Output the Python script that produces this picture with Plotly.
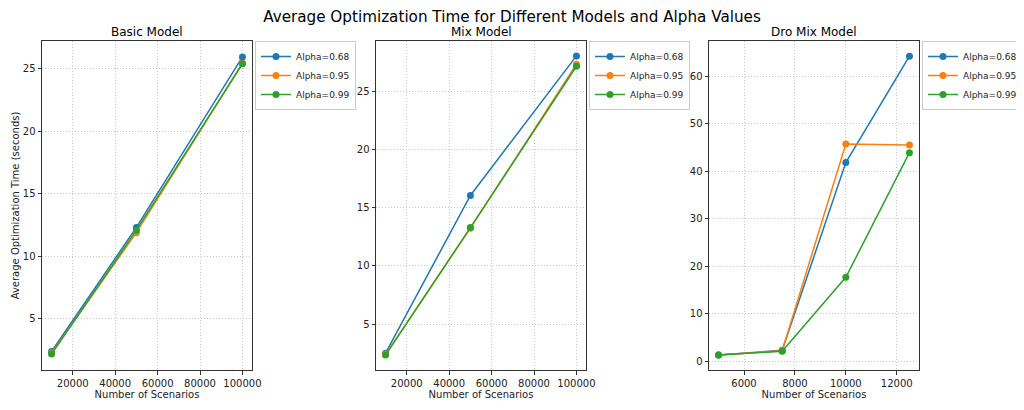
import plotly.graph_objects as go

# values
alphas = ["Alpha=0.68", "Alpha=0.95", "Alpha=0.99"]
colors = ["#1f77b4", "#ff7f0e", "#2ca02c"]

basic_scen = [10000, 50000, 100000]
basic_068 = [2.38, 12.3, 25.93]
basic_095 = [2.25, 11.88, 25.42]
basic_099 = [2.17, 12.08, 25.38]

mix_scen = [10000, 50000, 100000]
mix_068 = [2.5, 16.06, 28.07]
mix_095 = [2.4, 13.25, 27.35]
mix_099 = [2.33, 13.3, 27.18]

dro_scen = [5000, 7500, 10000, 12500]
dro_068 = [1.3, 2.3, 41.8, 64.2]
dro_095 = [1.3, 2.2, 45.7, 45.5]
dro_099 = [1.3, 2.1, 17.65, 43.9]

W, H = 1024, 410
OFF = 8  # page body margin
font = "DejaVu Sans"

def px_x(p):
    return (p - OFF) / W

def px_y(p):
    return 1 - (p - OFF) / H

fig = go.Figure()

panels = [
    ("Basic Model", basic_scen, [basic_068, basic_095, basic_099], "", (42, 252)),
    ("Mix Model", mix_scen, [mix_068, mix_095, mix_099], "2", (376, 586)),
    ("Dro Mix Model", dro_scen, [dro_068, dro_095, dro_099], "3", (709, 919)),
]

for title, xs, series, n, (x0, x1) in panels:
    for name, col, ys in zip(alphas, colors, series):
        fig.add_trace(go.Scatter(
            x=xs, y=ys, name=name, mode="lines+markers",
            line=dict(color=col, width=1.5),
            marker=dict(color=col, size=7),
            xaxis="x" + n, yaxis="y" + n, legend="legend" + n,
        ))
    fig.add_annotation(text=title, x=(px_x(x0) + px_x(x1)) / 2, y=px_y(32),
                       xref="paper", yref="paper", showarrow=False,
                       xanchor="center", yanchor="middle",
                       font=dict(size=12, color="black"))

axis_common = dict(showline=True, mirror=True, linecolor="#333", linewidth=1,
                   ticks="outside", ticklen=3.5, tickcolor="#333", automargin=False,
                   showgrid=True, gridcolor="#c8c8c8", griddash="1px,2px", gridwidth=1,
                   zeroline=False, tickformat="d", tickfont=dict(size=10, color="#222"))

layout = dict(
    width=W, height=H, margin=dict(l=0, r=0, t=0, b=0),
    plot_bgcolor="white", paper_bgcolor="white", template="none",
    font=dict(family=font, size=10, color="#222"),
    title=dict(text="Average Optimization Time for Different Models and Alpha Values",
               x=px_x(512), xanchor="center", y=px_y(17), yanchor="middle",
               font=dict(size=15.2, color="black")),
)

ranges = [
    ([5500, 104500], [0.9, 27.2], [20000, 40000, 60000, 80000, 100000], [5, 10, 15, 20, 25]),
    ([5500, 104500], [1.05, 29.35], [20000, 40000, 60000, 80000, 100000], [5, 10, 15, 20, 25]),
    ([4625, 12875], [-1.85, 67.4], [6000, 8000, 10000, 12000], [0, 10, 20, 30, 40, 50, 60]),
]

for (title, xs, series, n, (x0, x1)), (xr, yr, xt, yt) in zip(panels, ranges):
    layout["xaxis" + n] = dict(axis_common, domain=[px_x(x0), px_x(x1)], range=xr,
                               tickvals=xt, anchor="y" + n,
                               title=dict(text="Number of Scenarios", font=dict(size=10), standoff=0))
    layout["yaxis" + n] = dict(axis_common, domain=[px_y(370), px_y(41)], range=yr,
                               tickvals=yt, anchor="x" + n)
    layout["legend" + n] = dict(x=px_x(x1 + 3), y=px_y(41), xanchor="left", yanchor="top",
                                bgcolor="rgba(255,255,255,0)", bordercolor="#cccccc", borderwidth=1,
                                itemwidth=30, tracegroupgap=0,
                                font=dict(size=9, color="#222"))

layout["yaxis"]["title"] = dict(text="Average Optimization Time (seconds)", font=dict(size=10), standoff=1)

fig.update_layout(**layout)
fig.write_html("out.html")
